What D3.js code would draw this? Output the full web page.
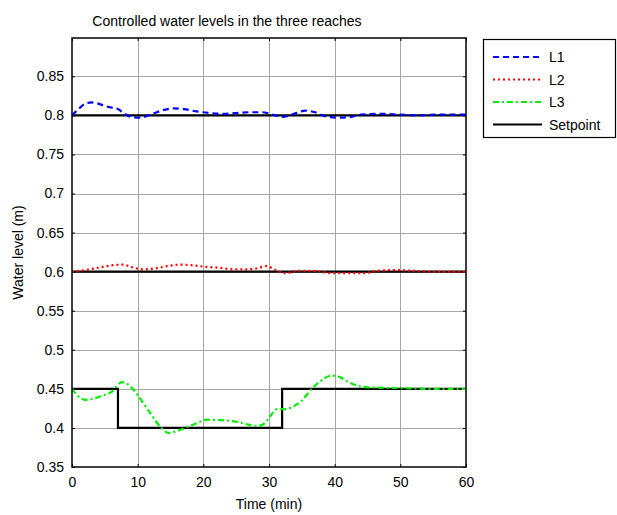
<!DOCTYPE html>
<html>
<head>
<meta charset="utf-8">
<script src="https://cdn.jsdelivr.net/npm/d3@7"></script>
<style>
  body { margin: 0; background: #fff; }
  svg { font-family: "Liberation Sans", Arial, sans-serif; }
</style>
</head>
<body>
<div id="chart"></div>
<script>
  'use strict';

  // time (min) and level (m)
  var l1Time = [0, 1, 2, 3, 4, 5, 6, 7, 8, 9, 10.4, 12, 14, 15.5, 17, 19, 21, 23, 25, 27, 29, 30.5, 32, 33.5, 35.5, 37, 38.5, 40.5, 42.5, 44, 47, 50, 53, 56, 60];
  var l1Level = [0.800, 0.808, 0.815, 0.8165, 0.815, 0.812, 0.810, 0.808, 0.802, 0.798, 0.797, 0.801, 0.807, 0.809, 0.808, 0.805, 0.803, 0.802, 0.803, 0.804, 0.804, 0.801, 0.798, 0.801, 0.806, 0.804, 0.799, 0.797, 0.798, 0.801, 0.802, 0.801, 0.800, 0.801, 0.801];

  var l2Time = [0, 2, 4, 6, 7.8, 9, 10.8, 12.5, 14.5, 16.5, 18.5, 20.5, 22.5, 24.5, 26.5, 28, 29.6, 31, 32.5, 34.5, 37, 39.5, 42, 44.5, 46.5, 49, 52, 55, 60];
  var l2Level = [0.600, 0.602, 0.605, 0.608, 0.609, 0.606, 0.603, 0.604, 0.607, 0.609, 0.608, 0.606, 0.605, 0.603, 0.603, 0.604, 0.607, 0.602, 0.598, 0.601, 0.601, 0.598, 0.598, 0.598, 0.601, 0.602, 0.601, 0.600, 0.600];

  var l3Time = [0, 1, 2, 3, 4.5, 6, 7.6, 8.8, 10, 11, 12, 13.5, 14.7, 16, 17.5, 19, 20.5, 22.5, 25, 27, 28.3, 29.2, 30.2, 31.2, 32.5, 33.8, 35, 36.5, 38, 39.5, 40.8, 42, 43.5, 45, 50, 55, 60];
  var l3Level = [0.450, 0.440, 0.436, 0.437, 0.441, 0.446, 0.4585, 0.454, 0.442, 0.430, 0.418, 0.401, 0.3936, 0.396, 0.401, 0.406, 0.4105, 0.410, 0.408, 0.404, 0.4025, 0.405, 0.415, 0.424, 0.424, 0.428, 0.435, 0.450, 0.461, 0.467, 0.465, 0.459, 0.454, 0.452, 0.451, 0.450, 0.450];

  var sp1Time = [0, 60], sp1Level = [0.8, 0.8];
  var sp2Time = [0, 60], sp2Level = [0.6, 0.6];
  var sp3Time = [0, 7, 7, 32, 32, 60];
  var sp3Level = [0.45, 0.45, 0.4, 0.4, 0.45, 0.45];

  var xTicks = [0, 10, 20, 30, 40, 50, 60];
  var yTicks = [0.35, 0.4, 0.45, 0.5, 0.55, 0.6, 0.65, 0.7, 0.75, 0.8, 0.85];
  var legendNames = ["L1", "L2", "L3", "Setpoint"];

  var width = 617, height = 515;
  var margin = { left: 72, right: 151, top: 38, bottom: 48 };

  var svg = d3.select("#chart").append("svg")
    .attr("width", width).attr("height", height);

  var x = d3.scaleLinear().domain([0, 60]).range([margin.left, width - margin.right]);
  var y = d3.scaleLinear().domain([0.35, 0.899]).range([height - margin.bottom, margin.top]);

  var x0 = x.range()[0], x1 = x.range()[1];
  var y0 = y.range()[0], y1 = y.range()[1];

  // grid
  var grid = svg.append("g").attr("class", "grid")
    .attr("stroke", "#a6a6a6").attr("stroke-width", 1);
  grid.selectAll("line.v").data(xTicks.slice(1, -1)).enter().append("line")
    .attr("class", "v")
    .attr("x1", function (d) { return Math.round(x(d)) + 0.5; })
    .attr("x2", function (d) { return Math.round(x(d)) + 0.5; })
    .attr("y1", y1).attr("y2", y0);
  grid.selectAll("line.h").data(yTicks.slice(1)).enter().append("line")
    .attr("class", "h")
    .attr("y1", function (d) { return Math.round(y(d)) + 0.5; })
    .attr("y2", function (d) { return Math.round(y(d)) + 0.5; })
    .attr("x1", x0).attr("x2", x1);

  // axes (matlab style: ticks inside, labels outside)
  var xAxis = svg.append("g").attr("transform", "translate(0," + y0 + ")")
    .call(d3.axisBottom(x).tickValues(xTicks).tickSize(-3).tickPadding(10).tickFormat(d3.format("d")));
  var xTop = svg.append("g").attr("transform", "translate(0," + y1 + ")")
    .call(d3.axisTop(x).tickValues(xTicks).tickSize(-3).tickFormat(""));
  var yAxis = svg.append("g").attr("transform", "translate(" + x0 + ",0)")
    .call(d3.axisLeft(y).tickValues(yTicks).tickSize(-3).tickPadding(8).tickFormat(function (d) { return d3.format("")(+d.toFixed(2)); }));
  var yRight = svg.append("g").attr("transform", "translate(" + x1 + ",0)")
    .call(d3.axisRight(y).tickValues(yTicks).tickSize(-3).tickFormat(""));

  [xAxis, xTop, yAxis, yRight].forEach(function (a) {
    a.select(".domain").remove();
    a.selectAll(".tick line").attr("stroke", "#000");
    a.selectAll(".tick text").attr("font-size", 14).attr("fill", "#000")
      .attr("font-family", "'Liberation Sans', Arial, sans-serif");
  });

  var line = d3.line()
    .x(function (d) { return x(d[0]); })
    .y(function (d) { return y(d[1]); });
  var smooth = d3.line()
    .x(function (d) { return x(d[0]); })
    .y(function (d) { return y(d[1]); })
    .curve(d3.curveMonotoneX);

  function pairs(t, v) { return t.map(function (d, i) { return [d, v[i]]; }); }

  var plot = svg.append("g").attr("fill", "none");

  // setpoints first, measured levels on top
  [[sp1Time, sp1Level], [sp2Time, sp2Level], [sp3Time, sp3Level]].forEach(function (s) {
    plot.append("path").attr("d", line(pairs(s[0], s[1])))
      .attr("stroke", "#000").attr("stroke-width", 2.2);
  });

  var series = [
    { t: l1Time, v: l1Level, color: "#0000ff", dash: "6,4" },
    { t: l2Time, v: l2Level, color: "#ff0000", dash: "2,3" },
    { t: l3Time, v: l3Level, color: "#00ee00", dash: "6,3,2,3" }
  ];
  series.forEach(function (s) {
    plot.append("path").attr("d", smooth(pairs(s.t, s.v)))
      .attr("stroke", s.color).attr("stroke-width", 2.2)
      .attr("stroke-dasharray", s.dash);
  });

  // frame
  svg.append("rect")
    .attr("x", x0).attr("y", y1).attr("width", x1 - x0).attr("height", y0 - y1)
    .attr("fill", "none").attr("stroke", "#000").attr("stroke-width", 1.5);

  // title and labels
  svg.append("text").attr("x", 227).attr("y", 26).attr("text-anchor", "middle")
    .attr("font-size", 14).text("Controlled water levels in the three reaches");
  svg.append("text").attr("x", (x0 + x1) / 2).attr("y", 509).attr("text-anchor", "middle")
    .attr("font-size", 14).text("Time (min)");
  svg.append("text").attr("transform", "translate(23," + ((y0 + y1) / 2) + ") rotate(-90)")
    .attr("text-anchor", "middle").attr("font-size", 14).text("Water level (m)");

  // legend
  var legend = svg.append("g").attr("transform", "translate(483,39)");
  legend.append("rect").attr("x", 0.5).attr("y", 0.5).attr("width", 132).attr("height", 98)
    .attr("fill", "#fff").attr("stroke", "#000").attr("stroke-width", 1.2);
  var legendStyle = series.concat([{ color: "#000", dash: null }]);
  legendNames.forEach(function (name, i) {
    var ly = 18 + i * 22.5;
    legend.append("line").attr("x1", 10).attr("x2", 59).attr("y1", ly).attr("y2", ly)
      .attr("stroke", legendStyle[i].color).attr("stroke-width", 2.2)
      .attr("stroke-dasharray", legendStyle[i].dash);
    legend.append("text").attr("x", 66).attr("y", ly + 5).attr("font-size", 14).text(name);
  });
</script>
</body>
</html>
